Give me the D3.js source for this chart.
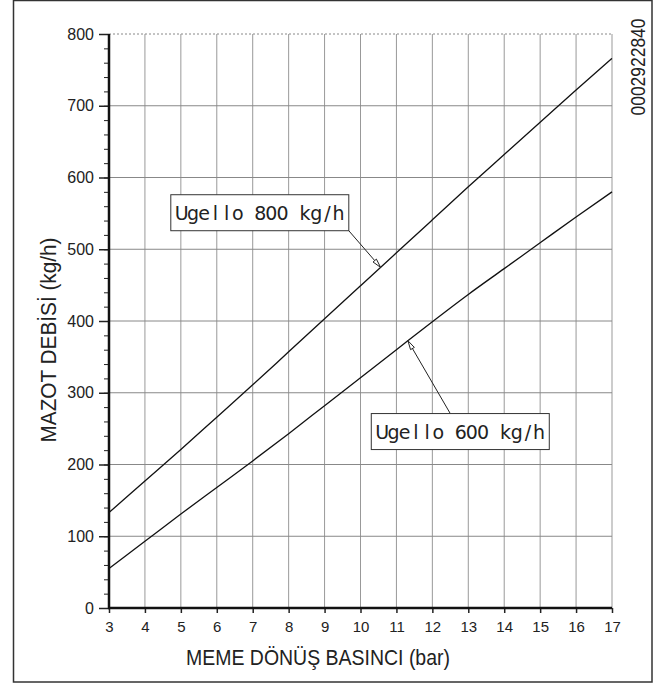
<!DOCTYPE html>
<html>
<head>
<meta charset="utf-8">
<script src="https://cdn.jsdelivr.net/npm/d3@7/dist/d3.min.js"></script>
<style>
  body { margin: 0; background: #fff; }
  svg { display: block; }
  text { font-family: "Liberation Sans", Arial, sans-serif; fill: #222; }
</style>
</head>
<body>
<svg id="chart" width="664" height="686"></svg>
<script>
// pressure (bar) on x, fuel flow (kg/h) on y
var pressures = [3, 4, 5, 6, 7, 8, 9, 10, 11, 12, 13, 14, 15, 16, 17];
var flow800 = [133, 177, 221, 266, 311, 357, 403, 449, 495, 541, 587, 632, 677, 722, 766];
var flow600 = [55, 93, 131, 168, 205, 243, 282, 321, 360, 399, 437, 473, 509, 545, 580];
var xTicks = [3, 4, 5, 6, 7, 8, 9, 10, 11, 12, 13, 14, 15, 16, 17];
var yTicks = [0, 100, 200, 300, 400, 500, 600, 700, 800];
var yMinor = d3.range(0, 801, 20);

var xTitle = 'MEME DÖNÜŞ BASINCI (bar)';
var yTitle = 'MAZOT DEBİSİ (kg/h)';
var docCode = '0002922840';

// callouts: box corner in data units, arrow target on the series
var notes = [
  {label: 'Ugello 800 kg/h', series: flow800, boxX: 4.72, boxY: 576, target: 10.56, from: 'corner'},
  {label: 'Ugello 600 kg/h', series: flow600, boxX: 10.30, boxY: 271, target: 11.32, from: 'top'}
];

var svg = d3.select('#chart');
var margin = {left: 109, right: 52, top: 34, bottom: 78};
var width = +svg.attr('width'), height = +svg.attr('height');

var x = d3.scaleLinear().domain([3, 17]).range([margin.left, width - margin.right]);
var y = d3.scaleLinear().domain([0, 800]).range([height - margin.bottom, margin.top]);

// outer frame
svg.append('rect')
  .attr('x', 13.5).attr('y', 0.5)
  .attr('width', 638.5).attr('height', 681.5)
  .attr('fill', 'none').attr('stroke', '#333').attr('stroke-width', 1.5);

// grid
var grid = svg.append('g');
grid.selectAll('.vg').data(xTicks).enter().append('line')
  .attr('x1', d => x(d)).attr('x2', d => x(d))
  .attr('y1', y(800)).attr('y2', y(0))
  .attr('stroke', '#999').attr('stroke-width', 1);
grid.selectAll('.hg').data(yTicks.slice(1)).enter().append('line')
  .attr('x1', x(3)).attr('x2', x(17))
  .attr('y1', d => y(d)).attr('y2', d => y(d))
  .attr('stroke', '#888').attr('stroke-width', 1)
  .attr('stroke-dasharray', d => d === 800 ? '2,2' : null);

// axes
var yMinorAxis = svg.append('g')
  .attr('transform', `translate(${x(3)},0)`)
  .call(d3.axisLeft(y).tickValues(yMinor).tickSize(5).tickFormat(''));
yMinorAxis.select('.domain').remove();
yMinorAxis.selectAll('line').attr('stroke', '#222');

var yAxis = svg.append('g')
  .attr('transform', `translate(${x(3)},0)`)
  .call(d3.axisLeft(y).tickValues(yTicks).tickSize(10).tickPadding(5));
yAxis.select('.domain').remove();
yAxis.selectAll('line').attr('stroke', '#222').attr('stroke-width', 1.5);
yAxis.selectAll('text').style('font-size', '16px').style('font-family', '"Liberation Sans", Arial, sans-serif').attr('fill', '#222');

var xAxis = svg.append('g')
  .attr('transform', `translate(0,${y(0)})`)
  .call(d3.axisBottom(x).tickValues(xTicks).tickSize(5).tickPadding(8).tickFormat(d3.format('d')));
xAxis.select('.domain').remove();
xAxis.selectAll('line').attr('stroke', '#222').attr('stroke-width', 1.5);
xAxis.selectAll('text').style('font-size', '15px').style('font-family', '"Liberation Sans", Arial, sans-serif').attr('fill', '#222');

svg.append('line')
  .attr('x1', x(3)).attr('x2', x(3)).attr('y1', y(800)).attr('y2', y(0) + 1)
  .attr('stroke', '#111').attr('stroke-width', 2.5);
svg.append('line')
  .attr('x1', x(3) - 1).attr('x2', x(17)).attr('y1', y(0)).attr('y2', y(0))
  .attr('stroke', '#111').attr('stroke-width', 2.5);

// series
var line = d3.line().x(d => x(d[0])).y(d => y(d[1])).curve(d3.curveMonotoneX);
[flow800, flow600].forEach(function (s) {
  svg.append('path')
    .datum(pressures.map((p, i) => [p, s[i]]))
    .attr('d', line)
    .attr('fill', 'none').attr('stroke', '#111').attr('stroke-width', 1.3);
});

// value of a series at any pressure
function valueAt(series, p) {
  return d3.scaleLinear().domain(pressures).range(series)(p);
}

// callouts
var boxW = 178, boxH = 36, pitch = 11.2;
notes.forEach(function (n) {
  var bx = x(n.boxX), by = y(n.boxY);
  var tx = x(n.target), ty = y(valueAt(n.series, n.target));
  var sx = n.from === 'corner' ? bx + boxW : bx + 79;
  var sy = n.from === 'corner' ? by + boxH : by;

  var ang = Math.atan2(ty - sy, tx - sx);
  var len = 9, hw = 2.2;
  var bxh = tx - len * Math.cos(ang), byh = ty - len * Math.sin(ang);
  svg.append('line')
    .attr('x1', sx).attr('y1', sy).attr('x2', bxh).attr('y2', byh)
    .attr('stroke', '#222').attr('stroke-width', 1);
  svg.append('path')
    .attr('d', `M${tx},${ty}L${bxh + hw * Math.sin(ang)},${byh - hw * Math.cos(ang)}L${bxh - hw * Math.sin(ang)},${byh + hw * Math.cos(ang)}Z`)
    .attr('fill', '#fff').attr('stroke', '#222').attr('stroke-width', 1);

  svg.append('rect')
    .attr('x', bx).attr('y', by).attr('width', boxW).attr('height', boxH)
    .attr('fill', '#fff').attr('stroke', '#333').attr('stroke-width', 1);
  var chars = n.label.split('');
  svg.append('text')
    .attr('x', chars.map((c, i) => (bx + 11 + i * pitch).toFixed(1)).join(' '))
    .attr('y', by + boxH / 2 + 7)
    .attr('text-anchor', 'middle')
    .style('font-family', '"DejaVu Sans", sans-serif')
    .style('font-size', '19px')
    .text(n.label);
});

// titles
svg.append('text')
  .attr('x', 318).attr('y', 665)
  .attr('text-anchor', 'middle')
  .attr('textLength', 264).attr('lengthAdjust', 'spacingAndGlyphs')
  .style('font-size', '22px')
  .text(xTitle);

svg.append('text')
  .attr('transform', 'translate(56,340) rotate(-90)')
  .attr('text-anchor', 'middle')
  .attr('textLength', 205).attr('lengthAdjust', 'spacingAndGlyphs')
  .style('font-size', '22px')
  .text(yTitle);

svg.append('text')
  .attr('transform', 'translate(645,67) rotate(-90)')
  .attr('text-anchor', 'middle')
  .attr('textLength', 97).attr('lengthAdjust', 'spacingAndGlyphs')
  .style('font-size', '21px')
  .text(docCode);
</script>
</body>
</html>
